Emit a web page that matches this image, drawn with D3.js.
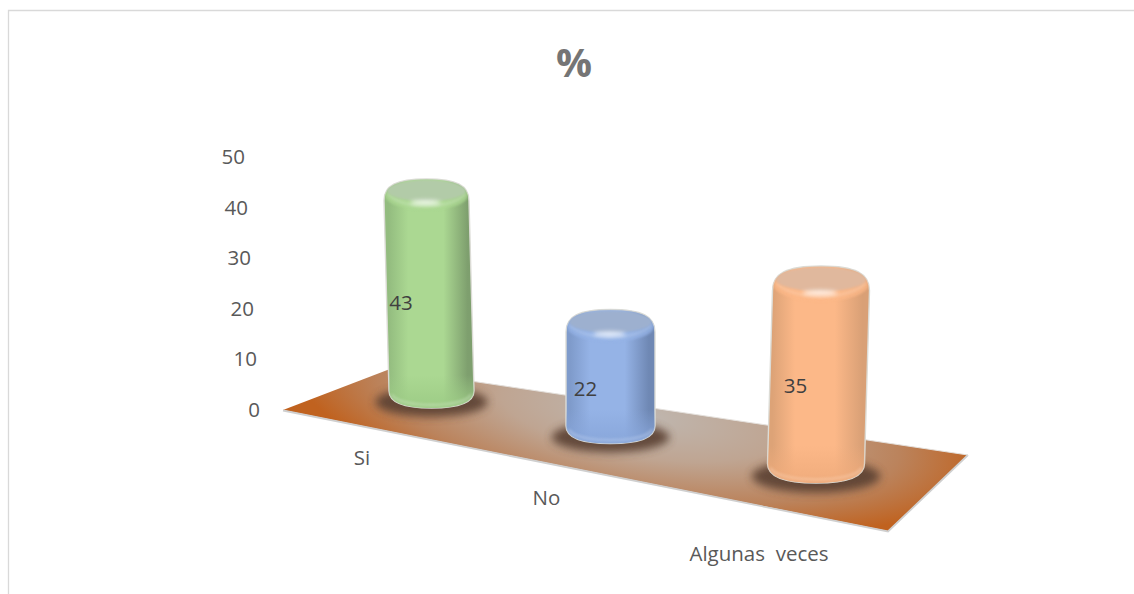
<!DOCTYPE html>
<html><head><meta charset="utf-8">
<script src="https://cdn.jsdelivr.net/npm/d3@7"></script>
<style>html,body{margin:0;padding:0;background:#fff;overflow:hidden}svg{display:block}text{font-family:"Open Sans",sans-serif}</style>
</head><body><div id="c"></div>
<script>
const title = "%";
const categories = ["Si", "No", "Algunas  veces"];
const values = [43, 22, 35];
const yTicks = [0, 10, 20, 30, 40, 50];
const W = 1134, H = 594;

const svg = d3.select("#c").append("svg").attr("width", W).attr("height", H);
const defs = svg.append("defs");

// layout scales (the view is in perspective, so each category has its own)
const yAxis = d3.scaleLinear().domain([0, 50]).range([410, 157]);
const yAxisX = d3.scaleLinear().domain([0, 50]).range([260, 245]);
const baseX = d3.scaleLinear().domain([0, 1, 2]).range([431.5, 610.5, 816]);
const topX = d3.scaleLinear().domain([0, 1, 2]).range([426.5, 610.5, 821]);
const baseY = d3.scaleLinear().domain([0, 1, 2]).range([393, 428, 466]);
const unit = d3.scaleLinear().domain([0, 1, 2]).range([4.63, 4.68, 5.23]);
const halfW = d3.scaleLinear().domain([0, 1, 2]).range([42.5, 44.5, 48.5]);
const capRy = d3.scaleLinear().domain([0, 1, 2]).range([15, 15.5, 17]);
const catX = d3.scaleLinear().domain([0, 1, 2]).range([362, 546.5, 759]);
const catY = d3.scaleLinear().domain([0, 1, 2]).range([465, 505, 561]);
const lblX = d3.scaleLinear().domain([0, 1, 2]).range([401, 585.5, 795.5]);
const lblY = d3.scaleLinear().domain([0, 1, 2]).range([310, 396, 393]);

const palette = [
  {edgeL:"#93bc7f",mid:"#abd892",edgeR:"#7e9f6e",cap:"#b2cba8",low:"#9ccb85",lip:"#d3e9c8"},
  {edgeL:"#7f9bcb",mid:"#95b3e6",edgeR:"#6f88b4",cap:"#9db0cf",low:"#88a6da",lip:"#c6d6f2"},
  {edgeL:"#dda377",mid:"#fcb888",edgeR:"#d9a076",cap:"#e0b89d",low:"#efab7b",lip:"#fcd8bd"}
];

[["b1",1.1],["b2",4.2],["b3",2],["b4",1.4]].forEach(([id,s])=>{
  defs.append("filter").attr("id",id).attr("x","-40%").attr("y","-80%").attr("width","180%").attr("height","260%")
    .append("feGaussianBlur").attr("stdDeviation",s);
});

// frame
svg.append("path").attr("d",`M8.5 ${H}V10.5H${W}`).attr("fill","none").attr("stroke","#d9d9d9").attr("stroke-width",1.3);

// title
svg.append("text").attr("x",574).attr("y",77).attr("text-anchor","middle")
  .attr("font-size",40).attr("font-weight",700).attr("fill","#757575").text(title);

// floor
const floorGrad = defs.append("radialGradient").attr("id","floor").attr("gradientUnits","userSpaceOnUse")
  .attr("cx",0).attr("cy",0).attr("r",1)
  .attr("gradientTransform","translate(640 415) rotate(9) scale(350 105)");
[[0,"#bfb7b0"],[0.4,"#bfa592"],[0.75,"#bb835c"],[1,"#c0621f"]].forEach(([o,c])=>floorGrad.append("stop").attr("offset",o).attr("stop-color",c));
const floorPts = [[283,410],[390,369],[968,455],[888,531]];
svg.append("polygon").attr("points",floorPts.map(p=>p.join(",")).join(" ")).attr("fill","url(#floor)");
svg.append("path").attr("d",d3.line()([[283,410.5],[888,531.5],[968,455]])).attr("fill","none").attr("stroke","#cfcfcf").attr("stroke-width",1.8);
svg.append("path").attr("d",d3.line()([[390,369],[968,455]])).attr("fill","none").attr("stroke","#e4e0dc").attr("stroke-width",1);

// y tick labels
svg.selectAll(".yt").data(yTicks).join("text").attr("class","yt")
  .attr("x",d=>yAxisX(d)).attr("y",d=>yAxis(d)+7).attr("text-anchor","end")
  .attr("font-size",20.5).attr("fill","#595959").text(d=>d);

// category labels
svg.selectAll(".ct").data(categories).join("text").attr("class","ct")
  .attr("x",(c,i)=>catX(i)).attr("y",(c,i)=>catY(i)).attr("text-anchor","middle")
  .attr("font-size",20.5).attr("fill","#595959").style("white-space","pre").text(d=>d);

// cylinders
const bars = svg.selectAll(".bar").data(categories.map((c,i)=>({c,v:values[i],i}))).join("g").attr("class","bar");

bars.append("ellipse").attr("cx",d=>baseX(d.i)).attr("cy",d=>baseY(d.i)+capRy(d.i)*0.6)
  .attr("rx",d=>halfW(d.i)*1.32).attr("ry",d=>capRy(d.i)*0.98)
  .attr("fill","#5a4132").attr("opacity",.9).attr("filter","url(#b2)");

bars.each(function(d){
  const g = d3.select(this), p = palette[d.i];
  const hw = halfW(d.i), ry = capRy(d.i), bx = baseX(d.i), by = baseY(d.i), tx = topX(d.i);
  const ty = by - d.v*unit(d.i);
  const grad = defs.append("linearGradient").attr("id","body"+d.i).attr("x1",0).attr("x2",1).attr("y1",0).attr("y2",0);
  [[0,p.edgeL],[.05,p.edgeL],[.27,p.mid],[.66,p.mid],[.93,p.edgeR],[1,p.edgeR]].forEach(([o,c])=>grad.append("stop").attr("offset",o).attr("stop-color",c));
  const vg = defs.append("linearGradient").attr("id","fade"+d.i).attr("x1",0).attr("x2",0).attr("y1",0).attr("y2",1);
  const fs = 1 - 2.2*ry/(by+ry-(ty-ry));
  [[0,p.low,0],[fs,p.low,0],[1,p.low,.95]].forEach(([o,c,a])=>vg.append("stop").attr("offset",o).attr("stop-color",c).attr("stop-opacity",a));
  const lx=tx-hw, rx=tx+hw, blx=bx-hw, brx=bx+hw;
  const outline = `M${lx} ${ty+ry*.45}`
    +`C${lx} ${ty-ry*.55} ${tx-hw*.72} ${ty-ry} ${tx} ${ty-ry}`
    +`C${tx+hw*.72} ${ty-ry} ${rx} ${ty-ry*.55} ${rx} ${ty+ry*.45}`
    +`L${brx} ${by-ry*.15}`
    +`C${brx} ${by+ry*.62} ${bx+hw*.66} ${by+ry} ${bx} ${by+ry}`
    +`C${bx-hw*.66} ${by+ry} ${blx} ${by+ry*.62} ${blx} ${by-ry*.15}Z`;
  defs.append("clipPath").attr("id","clip"+d.i).append("path").attr("d",outline);
  g.append("path").attr("d",outline).attr("fill","url(#body"+d.i+")").attr("stroke","#dcdcd6").attr("stroke-width",1.4);
  g.append("path").attr("d",outline).attr("fill","url(#fade"+d.i+")");
  const inner = g.append("g").attr("clip-path","url(#clip"+d.i+")");
  // bottom lip
  inner.append("path").attr("d",`M${blx+3} ${by+ry*.1}C${blx+8} ${by+ry*1.02} ${brx-8} ${by+ry*1.02} ${brx-3} ${by+ry*.1}`)
    .attr("fill","none").attr("stroke",p.lip).attr("stroke-width",1.6).attr("opacity",.7).attr("filter","url(#b4)");
  // shoulder band below the cap
  inner.append("ellipse").attr("cx",tx).attr("cy",ty+ry*.1).attr("rx",hw*.98).attr("ry",ry*.98)
    .attr("fill",p.mid).attr("opacity",.75).attr("filter","url(#b1)");
  inner.append("path").attr("d",`M${lx+4} ${ty}C${tx-hw*.6} ${ty+ry*1.05} ${tx+hw*.6} ${ty+ry*1.05} ${rx-4} ${ty}`)
    .attr("fill","none").attr("stroke",p.lip).attr("stroke-width",1.8).attr("opacity",.55).attr("filter","url(#b4)");
  // flat cap face
  inner.append("ellipse").attr("cx",tx).attr("cy",ty-ry*.22).attr("rx",hw*.93).attr("ry",ry*.72)
    .attr("fill",p.cap).attr("filter","url(#b1)");
  // highlight
  g.append("ellipse").attr("cx",tx-1).attr("cy",ty+ry*.58).attr("rx",hw*.36).attr("ry",2.6)
    .attr("fill","#fff").attr("opacity",.8).attr("filter","url(#b3)");
});

// value labels
bars.append("text").attr("x",d=>lblX(d.i)).attr("y",d=>lblY(d.i)).attr("text-anchor","middle")
  .attr("font-size",20.5).attr("fill","#404040").text(d=>d.v);
</script></body></html>
